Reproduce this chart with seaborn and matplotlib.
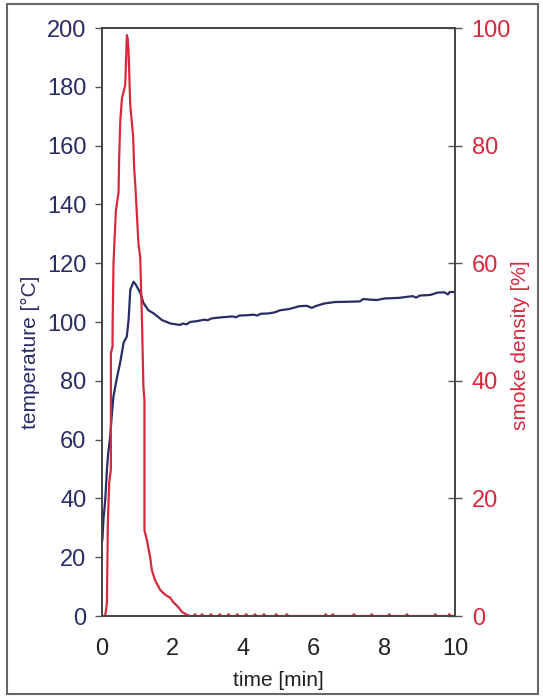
import seaborn as sns
import matplotlib.pyplot as plt
import pandas as pd
from matplotlib.patches import Rectangle

########################################################
# Data
########################################################
temp_time = [0.0, 0.02, 0.05, 0.10, 0.15, 0.18, 0.24, 0.29, 0.33, 0.43, 0.52, 0.62,
             0.71, 0.76, 0.81, 0.90, 0.95, 1.09, 1.18, 1.32, 1.46, 1.57, 1.70, 1.94,
             2.22, 2.30, 2.40, 2.50, 2.70, 2.90, 3.00, 3.10, 3.30, 3.50, 3.70, 3.80,
             3.90, 4.10, 4.30, 4.40, 4.50, 4.70, 4.90, 5.05, 5.30, 5.60, 5.80, 5.95,
             6.05, 6.30, 6.60, 7.00, 7.30, 7.40, 7.60, 7.80, 8.00, 8.40, 8.80, 8.90,
             9.00, 9.30, 9.50, 9.70, 9.80, 9.85, 10.0]
temp_values = [25, 26, 33, 39.5, 50, 55, 61, 69, 74.5, 81, 86, 93,
               95, 100.7, 111, 113.7, 113, 110, 106.5, 104, 103, 102, 100.7, 99.5,
               99, 99.5, 99.2, 100, 100.3, 100.8, 100.6, 101.2, 101.5, 101.7, 101.9, 101.6,
               102.2, 102.3, 102.5, 102.2, 102.8, 102.9, 103.3, 104, 104.4, 105.4, 105.5, 104.8,
               105.4, 106.3, 106.8, 106.9, 107, 107.8, 107.6, 107.5, 108, 108.2, 108.8, 108.3,
               109, 109.2, 110, 110.1, 109.4, 110.2, 110.2]

smoke_time = [0.0, 0.07, 0.10, 0.147, 0.176, 0.212, 0.26, 0.26, 0.306, 0.31, 0.334, 0.402,
              0.476, 0.495, 0.524, 0.572, 0.665, 0.713, 0.74, 0.76, 0.807, 0.89, 0.92,
              0.948, 1.025, 1.04, 1.09, 1.14, 1.18, 1.21, 1.21, 1.28, 1.37, 1.42, 1.51,
              1.66, 1.80, 1.94, 2.02, 2.17, 2.27, 2.41, 2.50,
              2.60, 2.64, 2.68, 2.80, 2.84, 2.88, 3.05, 3.09, 3.13, 3.30, 3.34, 3.38,
              3.55, 3.59, 3.63, 3.80, 3.84, 3.88, 4.05, 4.09, 4.13, 4.30, 4.34, 4.38,
              4.55, 4.59, 4.63, 4.90, 4.94, 4.98, 5.20, 5.24, 5.28, 6.30, 6.34, 6.38,
              6.50, 6.54, 6.58, 7.10, 7.14, 7.18, 7.60, 7.64, 7.68, 8.10, 8.14, 8.18,
              8.60, 8.64, 8.68, 9.40, 9.44, 9.48, 9.80, 9.84, 9.88, 10.0]
smoke_values = [0, 0, 0, 2.2, 16.3, 22.6, 25, 44.7, 45.8, 50, 60, 69,
                72, 78, 84, 88, 90.3, 98.8, 98, 96, 87, 81.5, 76,
                73.6, 65, 63.4, 61, 50.3, 39, 36.7, 14.6, 12.9, 10, 7.8, 6.1,
                4.4, 3.6, 3.1, 2.4, 1.5, 0.7, 0.2, 0,
                0, 0.3, 0, 0, 0.3, 0, 0, 0.3, 0, 0, 0.3, 0,
                0, 0.3, 0, 0, 0.3, 0, 0, 0.3, 0, 0, 0.3, 0,
                0, 0.3, 0, 0, 0.3, 0, 0, 0.3, 0, 0, 0.3, 0,
                0, 0.3, 0, 0, 0.3, 0, 0, 0.3, 0, 0, 0.3, 0,
                0, 0.3, 0, 0, 0.3, 0, 0, 0.3, 0, 0]

x_ticks = [0, 2, 4, 6, 8, 10]
temp_ticks = [0, 20, 40, 60, 80, 100, 120, 140, 160, 180, 200]
smoke_ticks = [0, 20, 40, 60, 80, 100]

navy = '#2b2b66'
red = '#d8283e'

df_temp = pd.DataFrame({'time': temp_time, 'temperature': temp_values})
df_smoke = pd.DataFrame({'time': smoke_time, 'smoke': smoke_values})

########################################################
# Plot
########################################################
sns.set_style("white")
plt.rcParams['font.family'] = ['Liberation Sans', 'DejaVu Sans']

fig = plt.figure(figsize=(5.43, 6.97), dpi=100)
ax = fig.add_axes([0.1873, 0.1162, 0.6507, 0.8436])
ax2 = ax.twinx()

sns.lineplot(data=df_temp, x='time', y='temperature', ax=ax, color=navy,
             lw=1.6, estimator=None, sort=False)
sns.lineplot(data=df_smoke, x='time', y='smoke', ax=ax2, color=red,
             lw=1.6, estimator=None, sort=False)

ax.set_xlim(0, 10)
ax.set_ylim(0, 200)
ax2.set_ylim(0, 100)
ax.set_xticks(x_ticks)
ax.set_yticks(temp_ticks)
ax2.set_yticks(smoke_ticks)

ax.set_xlabel('time [min]', fontsize=15, color='#222222', labelpad=8)
ax.set_ylabel('temperature [°C]', fontsize=15, color=navy)
ax2.set_ylabel('smoke density [%]', fontsize=15, color=red)
ax.yaxis.set_label_coords(-0.175, 0.449)
ax2.yaxis.set_label_coords(1.158, 0.461)

ax.tick_params(axis='x', direction='out', length=4, width=1, colors='#555555',
               labelsize=17, labelcolor='#222222', pad=12)
ax.tick_params(axis='y', direction='out', length=5, width=1, colors='#555555',
               labelsize=17, labelcolor=navy, pad=6)
ax2.tick_params(axis='y', direction='inout', length=10, width=1, colors='#555555',
                labelsize=17, labelcolor=red, pad=7)

for a in (ax, ax2):
    for s in a.spines.values():
        s.set_color('#444444')
        s.set_linewidth(1.2)

# frame around the whole picture
fig.patches.append(Rectangle((0.013, 0.004), 0.978, 0.99, transform=fig.transFigure,
                             fill=False, edgecolor='#666666', lw=1.5))

plt.savefig('out.png', dpi=100)
